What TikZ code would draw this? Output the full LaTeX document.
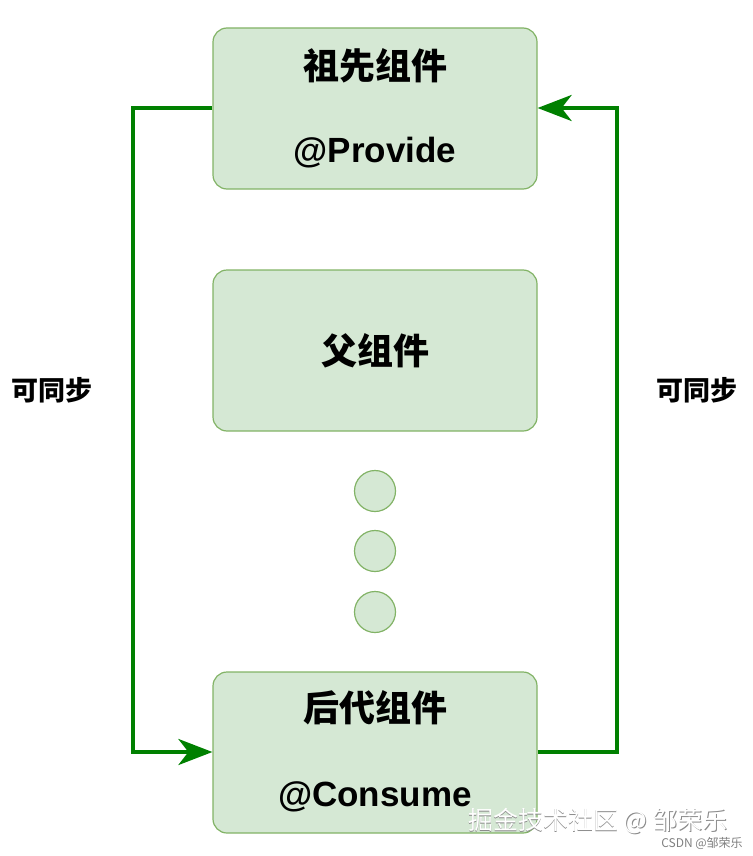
\documentclass[tikz,border=0pt]{standalone}
\usepackage{fontspec}
\setmainfont{Liberation Sans}
\newfontfamily\cjk{Noto Sans CJK SC}
\usetikzlibrary{arrows.meta}
\definecolor{boxfill}{HTML}{D5E8D4}
\definecolor{boxline}{HTML}{82B366}
\definecolor{linkgreen}{HTML}{008000}
\begin{document}
\begin{tikzpicture}[x=1pt,y=-1pt,
  comp/.style={draw=boxline,fill=boxfill,line width=1.2pt,rounded corners=14pt,minimum width=324pt,minimum height=161pt,inner sep=0pt,align=center},
  dot/.style={circle,draw=boxline,fill=boxfill,line width=1.2pt,minimum size=41pt,inner sep=0pt},
  link/.style={linkgreen,line width=4pt,-{Stealth[length=34pt,width=26pt,inset=10pt]}},
  cjkt/.style={font=\cjk\bfseries\fontsize{36}{40}\selectfont},
  latt/.style={font=\bfseries\fontsize{35}{40}\selectfont},
  lbl/.style={font=\cjk\bfseries\fontsize{27}{30}\selectfont},
  wm/.style={font=\cjk\fontsize{25}{28}\selectfont}]
\useasboundingbox (0,0) rectangle (752,856);
\node[comp] (top) at (375,108.5) {};
\node[cjkt] (t1) at (375,66) {祖先组件};
\node[latt] (t2) at (375,153) {@Provide};
\node[comp,cjkt] (mid) at (375,350.5) {父组件};
\node[dot] (c1) at (375,491) {};
\node[dot] (c2) at (375,551) {};
\node[dot] (c3) at (375,612) {};
\node[comp] (bot) at (375,752.5) {};
\node[cjkt] (b1) at (375,708) {后代组件};
\node[latt] (b2) at (375,797) {@Consume};
\coordinate (lt) at (133,108);
\coordinate (lb) at (133,752);
\coordinate (rb) at (617,752);
\coordinate (rt) at (617,108);
\draw[link] (top.west |- lt) -- (lt) -- (lb) -- (bot.west |- lb);
\draw[link] (bot.east |- rb) -- (rb) -- (rt) -- (top.east |- rt);
\node[lbl] (l1) at (52,390) {可同步};
\node[lbl] (l2) at (697,390) {可同步};
\node[wm,text=black!45] (w0) at (598.8,821.8) {掘金技术社区 @ 邹荣乐};
\node[wm,text=white] (w1) at (598,821) {掘金技术社区 @ 邹荣乐};
\node[font=\cjk\fontsize{12}{14}\selectfont,text=gray] (w2) at (702,843) {CSDN @邹荣乐};
\end{tikzpicture}
\end{document}
